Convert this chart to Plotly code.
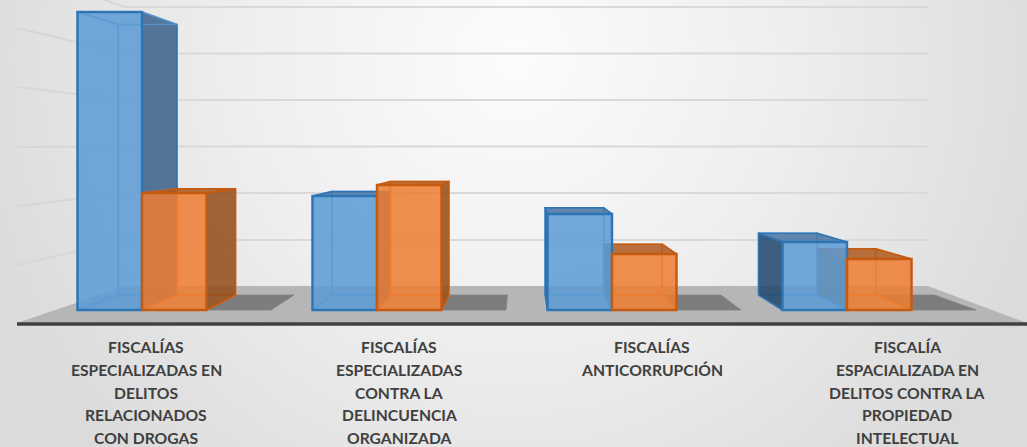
import base64
import plotly.graph_objects as go

# ---- data ----
label_lines = [
    ["FISCALÍAS", "ESPECIALIZADAS EN", "DELITOS", "RELACIONADOS", "CON DROGAS"],
    ["FISCALÍAS", "ESPECIALIZADAS", "CONTRA LA", "DELINCUENCIA", "ORGANIZADA"],
    ["FISCALÍAS", "ANTICORRUPCIÓN"],
    ["FISCALÍA", "ESPACIALIZADA EN", "DELITOS CONTRA LA", "PROPIEDAD", "INTELECTUAL"],
]
series_a = [1490, 570, 480, 340]
series_b = [585, 625, 280, 255]
series_c = [0, 0, 0, 0]
groups = [0, 1, 2, 3]

# ---- layout constants ----
W, H = 1027, 447
BASE_PX, UNIT = 310, 5
G0_PX, G_STEP = 142, 235
SLOT = 64.5 / G_STEP
S = 0.908
CX = (522 - G0_PX) / G_STEP
CY = (BASE_PX - 147) * UNIT


def xd(px):
    return (px - G0_PX) / G_STEP


def yd(py):
    return (BASE_PX - py) * UNIT


def back(x, y):
    return CX + S * (x - CX), CY + S * (y - CY)


def face(points):
    xs = [p[0] for p in points]
    ys = [p[1] for p in points]
    return xs + xs[:1], ys + ys[:1]


styles = {
    "a": dict(line="#2E75B6", inner="rgba(91,155,213,0.8)", glass="rgba(91,155,213,0.04)",
              side="rgba(58,95,138,0.85)", left="rgba(32,69,108,0.85)", top="rgba(69,116,165,0.85)",
              front="rgba(91,155,213,0.85)"),
    "b": dict(line="#C55A11", inner="rgba(237,125,49,0.8)", glass="rgba(237,125,49,0.04)",
              side="rgba(146,75,24,0.85)", left="rgba(146,75,24,0.85)", top="rgba(174,89,30,0.85)",
              front="rgba(237,125,49,0.85)"),
}

fig = go.Figure()


def add_poly(pts, fill, line, width=1.5):
    xs, ys = face(pts)
    fig.add_trace(go.Scatter(x=xs, y=ys, mode="lines", fill="toself", fillcolor=fill,
                             line=dict(color=line, width=width), hoverinfo="skip",
                             showlegend=False))


def add_box(x0, x1, val, st):
    fbl, fbr, ftl, ftr = (x0, 0), (x1, 0), (x0, val), (x1, val)
    bbl, bbr, btl, btr = back(*fbl), back(*fbr), back(*ftl), back(*ftr)
    # rear face and floor of the box are seen through the front
    add_poly([bbl, bbr, btr, btl], st["glass"], st["inner"])
    add_poly([fbl, fbr, bbr, bbl], st["glass"], st["inner"])
    left_out = bbl[0] < x0
    right_out = bbr[0] > x1
    add_poly([fbl, ftl, btl, bbl], st["left"] if left_out else st["glass"],
             st["line"] if left_out else st["inner"])
    add_poly([fbr, ftr, btr, bbr], st["side"] if right_out else st["glass"],
             st["line"] if right_out else st["inner"])
    top_out = btl[1] > val
    add_poly([ftl, ftr, btr, btl], st["top"] if top_out else st["glass"],
             st["line"] if top_out else st["inner"])


# floor patches of the empty third series and the boxes, painted back to front
for g in groups:
    x0 = g + SLOT
    x1 = g + 2 * SLOT
    val = series_c[g]
    add_poly([(x0, val), (x1, val), back(x1, val), back(x0, val)],
             "rgba(90,90,90,0.62)", "rgba(130,130,130,0.8)", 1)
    a_box = (g - SLOT, g, series_a[g], styles["a"])
    b_box = (g, g + SLOT, series_b[g], styles["b"])
    order = [a_box, b_box] if g < CX else [b_box, a_box]
    for box in order:
        add_box(*box)

# front faces sit on an overlaid axis pair so that they stay above every side face
for vals, st, off, name in [(series_a, styles["a"], -SLOT, "a"),
                            (series_b, styles["b"], 0, "b")]:
    fig.add_trace(go.Bar(x=groups, y=vals, width=SLOT, offset=off, xaxis="x2", yaxis="y2",
                         marker=dict(color=st["front"], line=dict(color=st["line"], width=2.4)),
                         hoverinfo="skip", showlegend=False, name=name))

shapes = []
# floor
shapes.append(dict(type="path", layer="below", line=dict(width=0), fillcolor="#B6B6B6",
                   path=f"M{xd(17)},{yd(323)} L{xd(126)},{yd(286)} L{xd(928)},{yd(286)} L{xd(1027)},{yd(323)} Z"))
# back-wall gridlines
for py in [7, 53.5, 100, 146.5, 193, 240]:
    shapes.append(dict(type="line", layer="below", x0=xd(125), x1=xd(928), y0=yd(py), y1=yd(py),
                       line=dict(color="#D9D9D9", width=2)))
# left-wall gridlines
for edge, corner in [(-31, 7), (28, 53.5), (87, 100), (147, 146.5), (206, 193), (265, 240)]:
    shapes.append(dict(type="line", layer="below", x0=xd(17), x1=xd(125), y0=yd(edge), y1=yd(corner),
                       line=dict(color="#D6D6D6", width=2)))
# category axis line
shapes.append(dict(type="line", layer="below", x0=xd(17), x1=xd(1027), y0=yd(324), y1=yd(324),
                   line=dict(color="#404040", width=3.5)))

label_cx = [146, 399, 652, 907]
annotations = []
for g, lines in enumerate(label_lines):
    for n, txt in enumerate(lines):
        annotations.append(dict(x=xd(label_cx[g]), y=yd(347 + 22.8 * n), text=f"<b>{txt}</b>",
                                showarrow=False, xanchor="center", yanchor="middle",
                                font=dict(family="Lato", size=15.7, color="#404040")))

svg = f"""<svg xmlns='http://www.w3.org/2000/svg' width='{W}' height='{H}'>
<defs><radialGradient id='g' gradientUnits='userSpaceOnUse' cx='513' cy='60' r='560'>
<stop offset='0%' stop-color='#FCFCFC'/><stop offset='50%' stop-color='#EEEEEE'/>
<stop offset='100%' stop-color='#DBDBDB'/></radialGradient></defs>
<rect width='{W}' height='{H}' fill='url(#g)'/></svg>"""
src = "data:image/svg+xml;base64," + base64.b64encode(svg.encode()).decode()

xr = [xd(0), xd(W)]
yr = [yd(H), yd(0)]
axis = dict(visible=False, fixedrange=True)
fig.update_layout(
    width=W, height=H, margin=dict(l=0, r=0, t=0, b=0, pad=0),
    paper_bgcolor="#EAEAEA", plot_bgcolor="rgba(0,0,0,0)",
    xaxis=dict(range=xr, domain=[0, 1], **axis),
    yaxis=dict(range=yr, domain=[0, 1], **axis),
    xaxis2=dict(range=xr, overlaying="x", **axis),
    yaxis2=dict(range=yr, overlaying="y", **axis),
    barmode="overlay", showlegend=False, shapes=shapes, annotations=annotations,
    images=[dict(source=src, xref="paper", yref="paper", x=0, y=1, sizex=1, sizey=1,
                 sizing="stretch", layer="below", xanchor="left", yanchor="top")],
)
fig.write_html("out.html", config=dict(displayModeBar=False),
               post_script="document.body.style.margin='0';")
